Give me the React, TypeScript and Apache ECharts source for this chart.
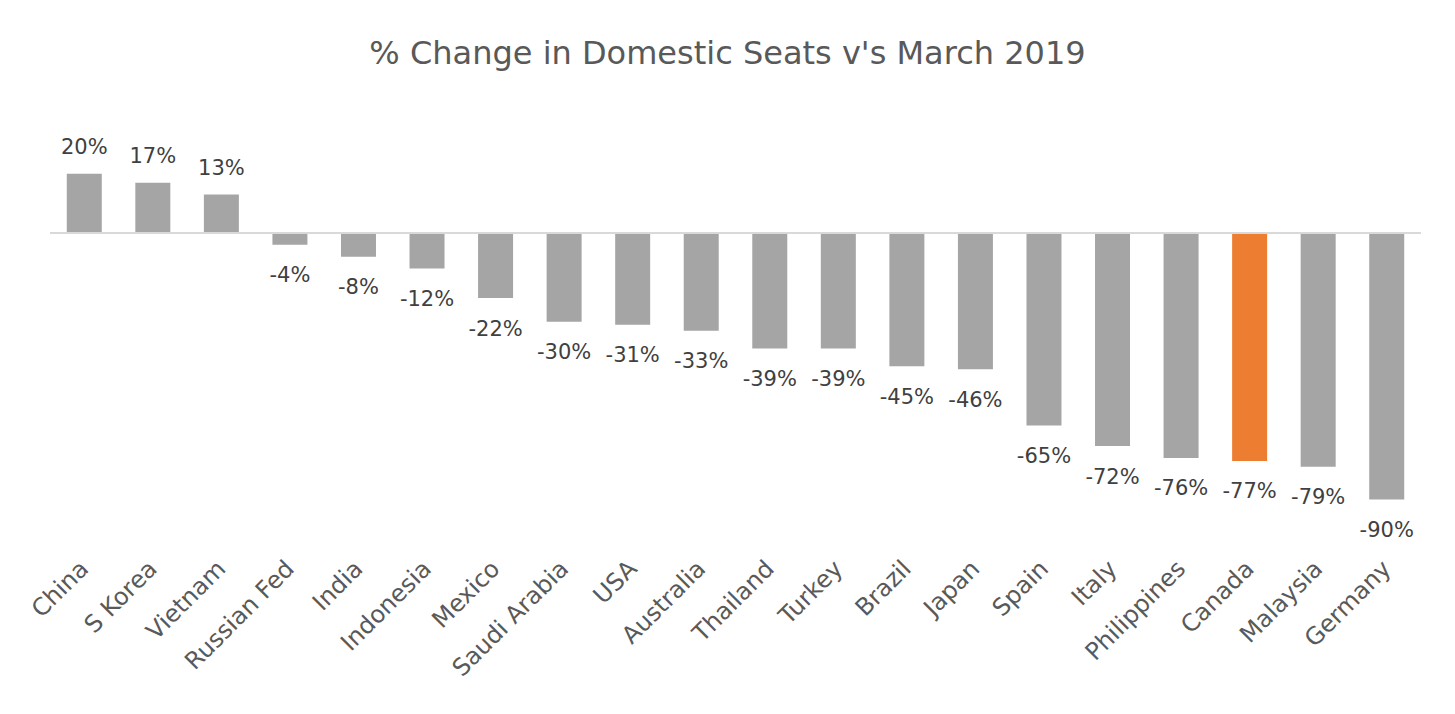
import React, { useEffect, useRef } from "react";
import * as echarts from "echarts";

const categories = ["China", "S Korea", "Vietnam", "Russian Fed", "India", "Indonesia", "Mexico", "Saudi Arabia", "USA", "Australia", "Thailand", "Turkey", "Brazil", "Japan", "Spain", "Italy", "Philippines", "Canada", "Malaysia", "Germany"];
const values = [20, 17, 13, -4, -8, -12, -22, -30, -31, -33, -39, -39, -45, -46, -65, -72, -76, -77, -79, -90];
const highlight = "Canada";
const titleText = "% Change in Domestic Seats v's March 2019";

export default function App() {
  const ref = useRef<HTMLDivElement>(null);
  useEffect(() => {
    if (!ref.current) return;
    const chart = echarts.init(ref.current, null, { renderer: "svg" });
    const font = "'DejaVu Sans', 'Liberation Sans', Arial, sans-serif";
    chart.setOption({
      animation: false,
      backgroundColor: "#ffffff",
      title: {
        text: titleText,
        left: "center",
        top: 32,
        textStyle: { fontFamily: font, fontSize: 32, fontWeight: "normal", color: "#595959" },
      },
      grid: { left: 50, right: 34, top: 173.8, height: 384.8 },
      xAxis: {
        type: "category",
        data: categories,
        axisLine: { show: false, onZero: false },
        axisTick: { show: false },
        axisLabel: { rotate: 45, margin: 6, interval: 0, fontFamily: font, fontSize: 24, color: "#595959" },
      },
      yAxis: { type: "value", min: -110, max: 20, show: false, splitLine: { show: false } },
      series: [
        {
          type: "bar",
          barWidth: 35,
          data: values.map((v, i) => ({
            value: v,
            itemStyle: { color: categories[i] === highlight ? "#ED7D31" : "#A5A5A5" },
            label: {
              show: true,
              position: v >= 0 ? "top" : "bottom",
              distance: v >= 0 ? 16 : 20,
            },
          })),
          label: {
            formatter: (p: any) => `${p.value}%`,
            fontFamily: font,
            fontSize: 21,
            color: "#404040",
          },
          markLine: {
            silent: true,
            symbol: "none",
            label: { show: false },
            lineStyle: { color: "#D9D9D9", width: 2, type: "solid" },
            data: [{ yAxis: 0 }],
          },
        },
      ],
    });
    return () => chart.dispose();
  }, []);
  return <div ref={ref} style={{ position: "fixed", left: 0, top: 0, width: 1455, height: 714 }} />;
}
